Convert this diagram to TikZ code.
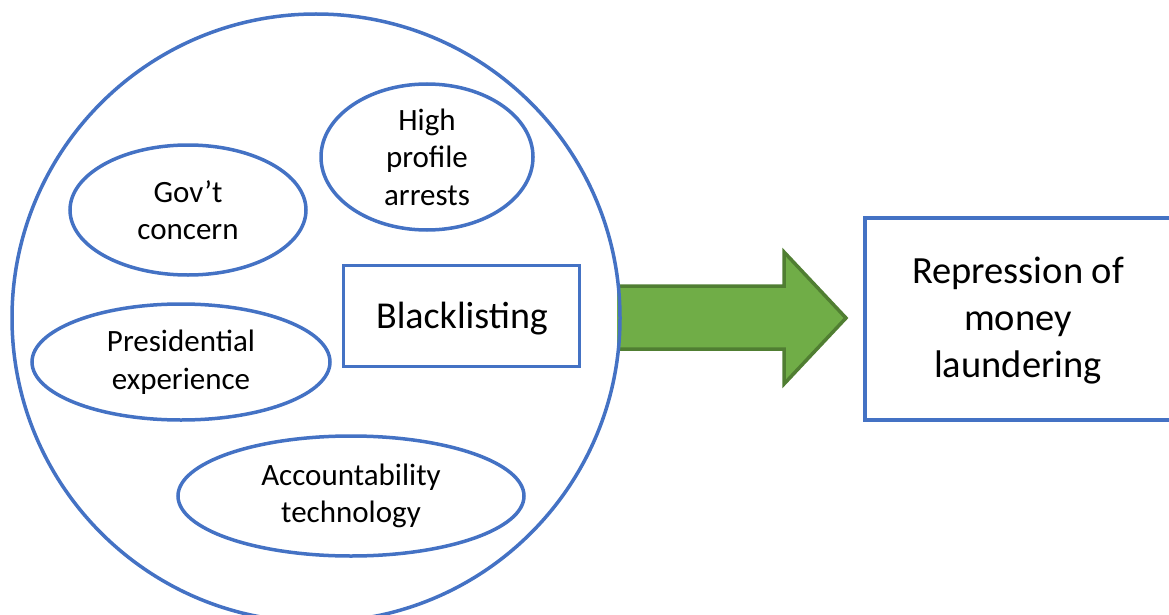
\documentclass[tikz,border=0pt]{standalone}
\usepackage{fontspec}
\setmainfont{Carlito}
\usetikzlibrary{shapes.geometric}
\definecolor{oblue}{HTML}{4472C4}
\definecolor{ogreen}{HTML}{70AD47}
\definecolor{ogreenline}{HTML}{507E32}
\tikzset{
  oval/.style={ellipse, draw=oblue, line width=3.5pt, inner sep=0pt, align=center,
    font=\fontsize{31}{37.5}\selectfont},
  sqbox/.style={rectangle, draw=oblue, line width=3.5pt, inner sep=0pt, align=center},
  bigarrow/.style={fill=ogreen, draw=ogreenline, line width=3.5pt, line join=miter},
}
\begin{document}
\begin{tikzpicture}[x=1pt,y=-1pt]
\useasboundingbox (0,0) rectangle (1169,615);
\clip (0,0) rectangle (1169,615);
% arrow
\draw[bigarrow] (617,286) -- (784,286) -- (784,252) -- (846,318) -- (784,384) -- (784,349) -- (617,349);
% big circle
\node[circle, draw=oblue, line width=3.5pt, minimum size=608pt, inner sep=0pt] (outer) at (316,318) {};
\node[oval, minimum width=212pt, minimum height=146pt] (arrests) at (427,157) {High\\profile\\arrests};
\node[oval, minimum width=236pt, minimum height=130pt] (gov) at (188,210) {Gov’t\\concern};
\node[oval, minimum width=298pt, minimum height=116pt] (pres) at (181,362) {Presidential\\experience};
\node[oval, minimum width=346pt, minimum height=120pt] (acc) at (351,496) {Accountability\\technology};
\node[sqbox, minimum width=236pt, minimum height=101pt] (black) at (461.5,316) {};
\node[font=\fontsize{38}{46}\selectfont] (blacktext) at (462,319) {Blacklisting};
\node[sqbox, minimum width=340pt, minimum height=202pt, anchor=north west] (rep) at (863,216) {};
\node[align=center, font=\fontsize{38.5}{47}\selectfont] (reptext) at (1018,321) {Repression of\\money\\laundering};
\end{tikzpicture}
\end{document}
